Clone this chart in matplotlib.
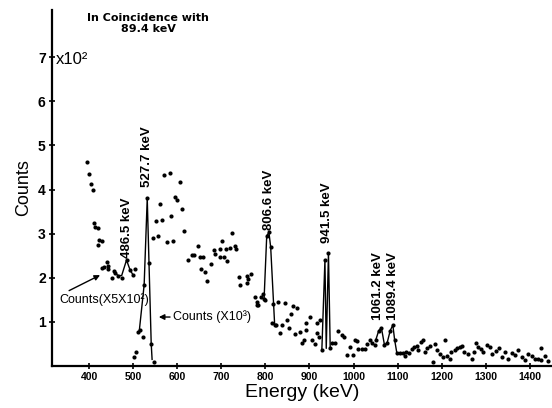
import matplotlib
matplotlib.use("Agg")
import matplotlib.pyplot as plt

# upper scatter, Counts (x5x10^2)
energy_a = [395, 400, 404, 408, 412, 414, 420, 421, 423, 429, 430, 435, 440, 442,
            444, 451, 457, 460, 466, 474, 485, 493, 500, 504,
            544, 553, 556, 562, 566, 571, 576, 584, 587, 591, 595, 600, 606, 611,
            615, 625, 634, 638, 646, 652, 653, 659, 663, 668, 676, 683, 686, 696,
            697, 702, 706, 710, 712, 720, 724, 731, 733, 740, 742, 758, 759, 761,
            767, 776, 780, 782, 784, 789, 794, 799,
            818, 828, 845, 858, 862, 871, 891, 901, 916, 924]
counts_a = [4.63, 4.35, 4.12, 3.99, 3.25, 3.16, 3.12, 2.74, 2.86, 2.83, 2.23, 2.25, 2.35, 2.27,
            2.21, 1.99, 2.15, 2.10, 2.05, 1.99, 2.40, 2.18, 2.06, 2.20,
            2.90, 3.29, 2.95, 3.67, 3.31, 4.33, 2.80, 4.38, 3.39, 2.84, 3.84, 3.76, 4.17, 3.55,
            3.05, 2.40, 2.52, 2.52, 2.73, 2.46, 2.20, 2.46, 2.12, 1.93, 2.31, 2.63, 2.54, 2.48,
            2.65, 2.84, 2.48, 2.66, 2.39, 2.67, 3.01, 2.71, 2.65, 2.02, 1.84, 2.04, 1.89, 1.97,
            2.09, 1.57, 1.38, 1.46, 1.38, 1.57, 1.63, 1.50,
            1.40, 1.45, 1.43, 1.17, 1.36, 1.31, 0.97, 1.11, 0.98, 1.05]

# lower scatter, Counts (x10^3)
energy_b = [503, 506, 510, 516, 522, 525, 532, 536, 541, 547,
            797, 803, 808, 812, 821,
            816, 824, 832, 837, 848, 853, 868, 878, 883, 887, 892, 905, 912, 916, 922,
            928, 935, 943, 947,
            952, 958, 965, 973, 978, 984, 992, 999, 1003, 1008, 1011, 1018, 1026,
            1030, 1037, 1041, 1048, 1050, 1057, 1063, 1070, 1076, 1083, 1089, 1093,
            1098, 1105, 1113, 1116, 1120, 1126, 1132, 1137, 1143, 1147, 1154, 1158,
            1162, 1166, 1173, 1179, 1185, 1190, 1196, 1202, 1207, 1211, 1219, 1222,
            1230, 1235, 1241, 1247, 1251, 1260, 1268, 1273, 1277, 1283, 1288, 1294,
            1302, 1309, 1315, 1323, 1330, 1336, 1343, 1351, 1359, 1366, 1373, 1381,
            1389, 1396, 1404, 1411, 1418, 1424, 1426, 1434, 1441]
counts_b = [0.21, 0.32, 0.76, 0.82, 0.66, 1.84, 3.80, 2.33, 0.51, 0.08,
            1.52, 2.95, 3.03, 2.69, 0.93,
            0.97, 0.93, 0.75, 0.93, 1.04, 0.87, 0.72, 0.78, 0.53, 0.60, 0.82, 0.60, 0.49, 0.74, 0.66,
            0.36, 2.40, 2.56, 0.40,
            0.53, 0.53, 0.80, 0.70, 0.65, 0.26, 0.44, 0.25, 0.59, 0.57, 0.39, 0.39, 0.39,
            0.51, 0.60, 0.53, 0.48, 0.58, 0.80, 0.87, 0.48, 0.52, 0.80, 0.93, 0.60,
            0.30, 0.30, 0.30, 0.23, 0.32, 0.29, 0.38, 0.44, 0.45, 0.36, 0.55, 0.59,
            0.32, 0.40, 0.45, 0.10, 0.51, 0.36, 0.27, 0.21, 0.59, 0.23, 0.17, 0.32,
            0.36, 0.40, 0.44, 0.45, 0.32, 0.27, 0.17, 0.32, 0.53, 0.44, 0.38, 0.32,
            0.48, 0.44, 0.27, 0.35, 0.40, 0.21, 0.32, 0.17, 0.29, 0.25, 0.36, 0.21,
            0.14, 0.27, 0.23, 0.15, 0.17, 0.41, 0.14, 0.23, 0.12]

# hand-drawn lines through the peaks
peak_lines = {
    "486.5": ([460, 466, 474, 485, 493, 500], [2.10, 2.05, 2.05, 2.40, 2.18, 2.06]),
    "527.7": ([514, 525, 532, 536, 541, 543], [0.80, 1.84, 3.80, 2.33, 0.51, 0.15]),
    "806.6": ([797, 803, 808, 812, 821], [1.52, 2.95, 3.03, 2.69, 0.93]),
    "941.5": ([928, 935, 938, 943, 947], [0.36, 2.40, 0.40, 2.56, 0.40]),
    "1061": ([1050, 1057, 1063, 1070, 1076, 1083, 1089, 1093, 1098],
             [0.58, 0.80, 0.87, 0.48, 0.52, 0.80, 0.93, 0.60, 0.30]),
}

# peak labels: text, energy, bottom of text (counts)
peak_labels = ["486.5 keV", "527.7 keV", "806.6 keV", "941.5 keV", "1061.2 keV", "1089.4 keV"]
label_energy = [485, 531, 808, 939, 1056, 1090]
label_bottom = [2.45, 4.06, 3.08, 2.79, 1.04, 1.04]

x_ticks = [400, 500, 600, 700, 800, 900, 1000, 1100, 1200, 1300, 1400]
y_ticks = [1, 2, 3, 4, 5, 6, 7]

plt.rcParams["font.family"] = ["Liberation Sans", "DejaVu Sans"]

fig = plt.figure(figsize=(5.52, 4.08), dpi=100)
ax = fig.add_axes([52 / 552, 42 / 408, 500 / 552, 356 / 408])

ax.plot(energy_a, counts_a, "o", color="black", ms=3.0, mew=0)
ax.plot(energy_b, counts_b, "o", color="black", ms=3.0, mew=0)
for e, c in peak_lines.values():
    ax.plot(e, c, "-", color="black", lw=1.0)

for text, e, b in zip(peak_labels, label_energy, label_bottom):
    ax.text(e, b, text, rotation=90, ha="center", va="bottom",
            fontsize=9.5, fontweight="bold")

ax.set_xlim(316, 1450)
ax.set_ylim(0, 8.07)
ax.set_xticks(x_ticks)
ax.set_yticks(y_ticks)
ax.set_xticklabels([str(t) for t in x_ticks], fontsize=7.5, fontweight="bold")
ax.set_yticklabels([str(t) for t in y_ticks], fontsize=10, fontweight="bold")
ax.tick_params(axis="both", direction="inout", length=5, width=1.2, pad=2)

ax.spines["top"].set_visible(False)
ax.spines["right"].set_visible(False)
ax.spines["left"].set_linewidth(1.6)
ax.spines["bottom"].set_linewidth(1.6)

ax.set_ylabel("Counts", fontsize=13, labelpad=4)
ax.set_xlabel("Energy (keV)", fontsize=14, labelpad=1)

ax.annotate("Counts(X5X10²)", xy=(425, 2.06), xytext=(332, 1.50),
            fontsize=9, ha="left", va="center",
            arrowprops=dict(arrowstyle="-|>", color="black", lw=1.0,
                            mutation_scale=8, shrinkA=0, shrinkB=0,
                            relpos=(0.05, 1.0)))
ax.annotate("Counts (X10³)", xy=(552, 1.11), xytext=(590, 1.11),
            fontsize=9, ha="left", va="center",
            arrowprops=dict(arrowstyle="-|>", color="black", lw=1.0,
                            mutation_scale=8, shrinkA=0, shrinkB=2))

fig.text(148 / 552, 1 - 13 / 408, "In Coincidence with\n89.4 keV", ha="center",
         va="top", fontsize=8, fontweight="bold", family="DejaVu Sans",
         linespacing=1.15)
fig.text(56 / 552, 1 - 59 / 408, "x10²", ha="left", va="center", fontsize=12)

fig.savefig("out.png", dpi=100)
